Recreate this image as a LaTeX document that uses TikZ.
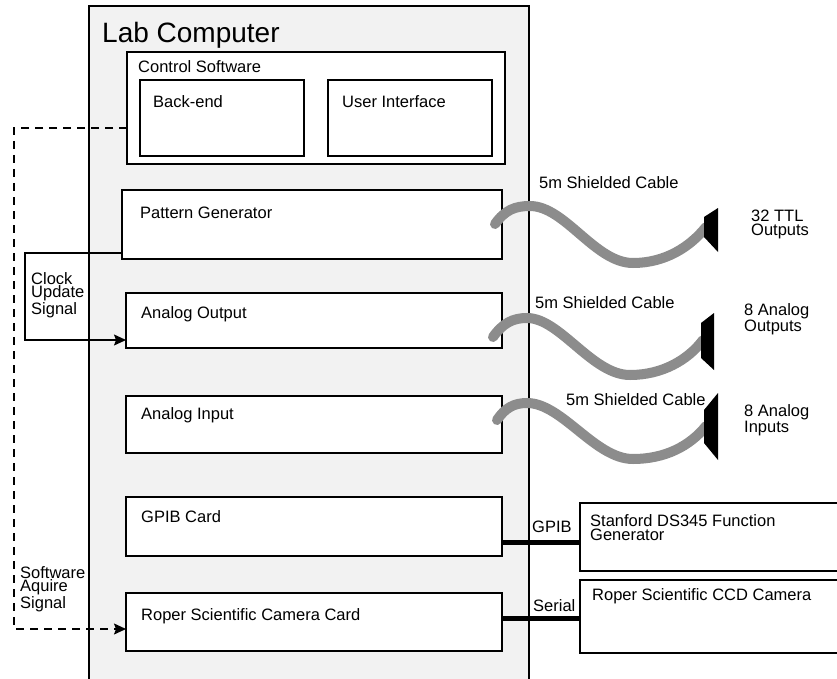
\documentclass[tikz,border=0pt]{standalone}
\usepackage{fontspec}
\setmainfont{Liberation Sans}
\usetikzlibrary{arrows.meta}
\definecolor{casegray}{HTML}{F2F2F2}
\definecolor{cablegray}{HTML}{8C8C8C}

\begin{document}
\begin{tikzpicture}[x=1pt,y=-1pt,
  box/.style={draw,fill=white,line width=1.3pt,rectangle,inner sep=0pt,outer sep=0pt,anchor=north west},
  lbl/.style={inner sep=0pt,anchor=base west,font=\fontsize{16.5}{13.5}\selectfont,align=left},
  sig/.style={line width=1.2pt},
  tip/.style={-{Stealth[length=12pt,width=11pt,inset=2pt]}},
  bus/.style={line width=5pt},
  cable/.style={draw=cablegray,line width=10pt,line cap=round},
  plug/.style={fill=black}
]
\clip (0,0) rectangle (837,679);
\fill[white] (0,0) rectangle (837,679);

% computer case and its cards
\node[box,fill=casegray,minimum width=440pt,minimum height=720pt] (lab) at (89,6) {};
\node[box,minimum width=378pt,minimum height=112pt] (cs) at (127,52) {};
\node[box,minimum width=164pt,minimum height=76pt] (be) at (140,80) {};
\node[box,minimum width=164pt,minimum height=76pt] (ui) at (328,80) {};
\node[box,minimum width=380pt,minimum height=69pt] (pg) at (122,190) {};
\node[box,minimum width=376pt,minimum height=55pt] (ao) at (126,293) {};
\node[box,minimum width=376pt,minimum height=57pt] (ai) at (126,396) {};
\node[box,minimum width=376pt,minimum height=59pt] (gpib) at (126,497) {};
\node[box,minimum width=376pt,minimum height=58pt] (cam) at (126,593) {};

% external instruments
\node[box,minimum width=280pt,minimum height=68pt] (sf) at (580,503) {};
\node[box,minimum width=280pt,minimum height=73pt] (ccd) at (580,580) {};

% signal lines
\draw[sig,tip] ([yshift=6pt]pg.south west) -- ++(-97,0) coordinate (clk1)
  |- ([yshift=8pt]ao.south west);
\draw[sig,tip,dash pattern=on 8pt off 6pt] ([yshift=-20pt]cs.west) -- ++(-113,0) coordinate (sw1)
  |- ([yshift=-7pt]cam.west);

% bus cables
\draw[bus] ([yshift=-15.5pt]gpib.east) -- ([yshift=-15.5pt]gpib.east -| sf.west);
\draw[bus] ([yshift=4pt]cam.east) -- ([yshift=4pt]cam.east -| ccd.west);

% shielded ribbon cables
\coordinate (c1s) at (495,224); \coordinate (c1e) at (706,227);
\coordinate (c2s) at (493,337); \coordinate (c2e) at (703,340);
\coordinate (c3s) at (497,420); \coordinate (c3e) at (706,426);
\draw[cable] (c1s) .. controls (505,210) and (515,206) .. (530,206)
  .. controls (565,206) and (595,263) .. (633,263)
  .. controls (665,263) and (690,247) .. (c1e);
\draw[cable] (c2s) .. controls (503,323) and (513,318) .. (527,318)
  .. controls (560,318) and (592,375) .. (630,375)
  .. controls (662,375) and (688,360) .. (c2e);
\draw[cable] (c3s) .. controls (505,408) and (514,403) .. (527,403)
  .. controls (562,403) and (595,459) .. (633,459)
  .. controls (665,459) and (690,446) .. (c3e);

% cable connectors
\fill[plug] (704,217) -- (718,208) -- (718,252) -- (704,237) -- cycle;
\fill[plug] (701,323) -- (714,313) -- (714,370) -- (701,358) -- cycle;
\fill[plug] (704,410) -- (718,393) -- (718,460) -- (704,443) -- cycle;

% labels (multi-line labels are placed by the baseline of their last line)
\node[inner sep=0pt,anchor=base west,font=\fontsize{28}{30}\selectfont] (labt) at (102,43) {Lab Computer};
\node[lbl] (cst) at (138,73) {Control Software};
\node[lbl] (bet) at (153,108) {Back-end};
\node[lbl] (uit) at (342,108) {User Interface};
\node[lbl] (pgt) at (140,218) {Pattern Generator};
\node[lbl] (aot) at (141,318) {Analog Output};
\node[lbl] (ait) at (141,419) {Analog Input};
\node[lbl] (gpibt) at (141,522) {GPIB Card};
\node[lbl] (camt) at (141,620) {Roper Scientific Camera Card};
\node[lbl] (sft) at (590,540) {Stanford DS345 Function\\Generator};
\node[lbl] (ccdt) at (592,600) {Roper Scientific CCD Camera};
\node[lbl] (gpibl) at (532,532) {GPIB};
\node[lbl] (serl) at (533,611) {Serial};
\node[lbl] (c1l) at (539,189) {5m Shielded Cable};
\node[lbl] (c2l) at (535,308) {5m Shielded Cable};
\node[lbl] (c3l) at (566,405) {5m Shielded Cable};
\node[lbl] (o1) at (751,235) {32 TTL\\Outputs};
\node[lbl] (o2) at (744,331) {8 Analog\\Outputs};
\node[lbl] (o3) at (744,432) {8 Analog\\Inputs};
\node[lbl] (clkt) at (31,314) {Clock\\Update\\Signal};
\node[lbl] (swt) at (20,608) {Software\\Aquire\\Signal};
\end{tikzpicture}
\end{document}
